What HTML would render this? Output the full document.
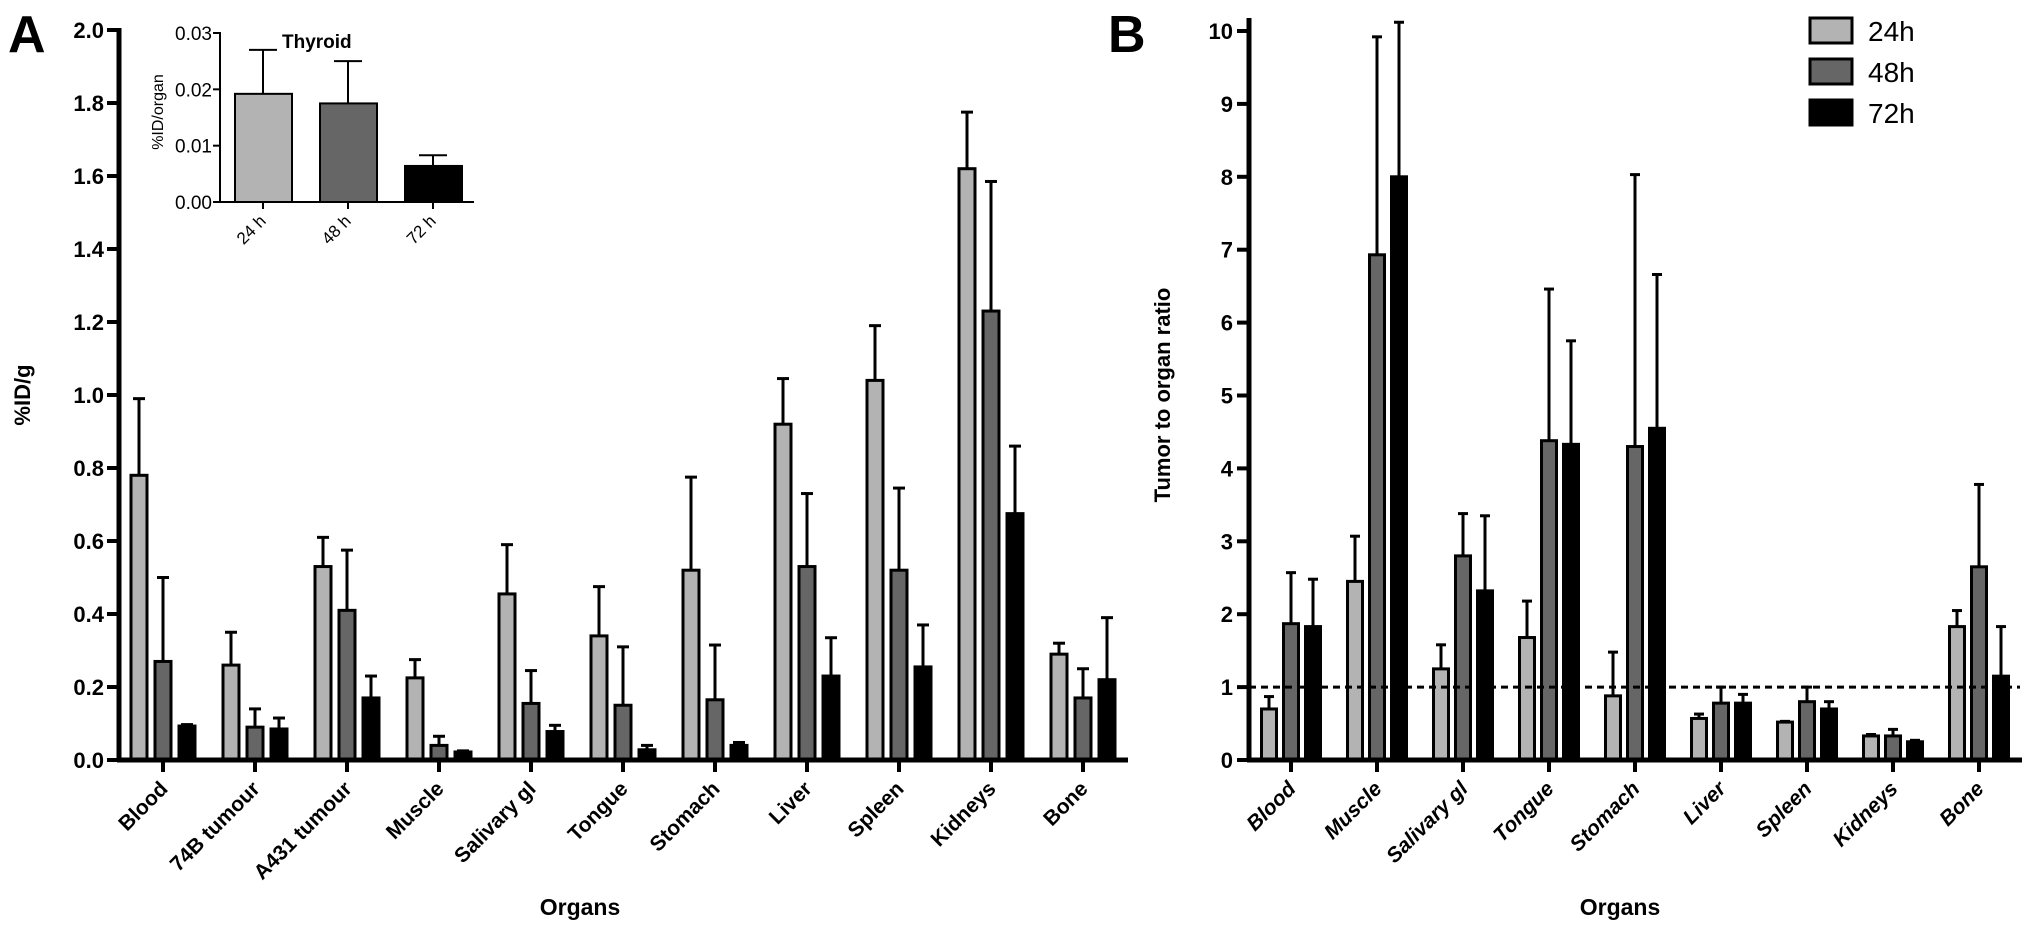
<!DOCTYPE html>
<html><head><meta charset="utf-8">
<style>
html,body{margin:0;padding:0;background:#fff;}
svg{display:block;font-family:"Liberation Sans",Arial,sans-serif;}
</style></head>
<body>
<svg id="fig" width="2031" height="940" viewBox="0 0 2031 940" xmlns="http://www.w3.org/2000/svg"></svg>
<script>
// Panel A data
const catsA = ["Blood","74B tumour","A431 tumour","Muscle","Salivary gl","Tongue","Stomach","Liver","Spleen","Kidneys","Bone"];
const a24 = [0.78,0.26,0.53,0.225,0.455,0.34,0.52,0.92,1.04,1.62,0.29];
const a24err = [0.99,0.35,0.61,0.275,0.59,0.475,0.775,1.045,1.19,1.775,0.32];
const a48 = [0.27,0.09,0.41,0.04,0.155,0.15,0.165,0.53,0.52,1.23,0.17];
const a48err = [0.50,0.14,0.575,0.065,0.245,0.31,0.315,0.73,0.745,1.585,0.25];
const a72 = [0.093,0.085,0.17,0.022,0.078,0.028,0.04,0.23,0.255,0.675,0.22];
const a72err = [0.097,0.115,0.23,0.025,0.095,0.04,0.048,0.335,0.37,0.86,0.39];
const ticksA = ["0.0","0.2","0.4","0.6","0.8","1.0","1.2","1.4","1.6","1.8","2.0"];
// Inset data
const catsI = ["24 h","48 h","72 h"];
const thy = [0.0192,0.0175,0.0064];
const thyErr = [0.027,0.025,0.0083];
const ticksI = ["0.00","0.01","0.02","0.03"];
// Panel B data
const catsB = ["Blood","Muscle","Salivary gl","Tongue","Stomach","Liver","Spleen","Kidneys","Bone"];
const b24 = [0.70,2.45,1.25,1.68,0.88,0.57,0.52,0.33,1.83];
const b24err = [0.87,3.07,1.58,2.18,1.48,0.63,0.53,0.35,2.05];
const b48 = [1.87,6.93,2.80,4.38,4.30,0.78,0.80,0.33,2.65];
const b48err = [2.57,9.92,3.38,6.46,8.03,1.0,1.0,0.42,3.78];
const b72 = [1.83,8.00,2.32,4.33,4.55,0.78,0.70,0.25,1.15];
const b72err = [2.48,10.12,3.35,5.75,6.66,0.90,0.80,0.27,1.83];
const ticksB = ["0","1","2","3","4","5","6","7","8","9","10"];
const refLine = [1];

const NS="http://www.w3.org/2000/svg";
const svg=document.getElementById('fig');
const fills=["#b3b3b3","#666666","#000000"];
function mk(tag,attrs,parent,text){const e=document.createElementNS(NS,tag);for(const k in attrs)e.setAttribute(k,attrs[k]);if(text!==undefined)e.textContent=text;(parent||svg).appendChild(e);return e;}

// ---------- Panel A ----------
const gA=mk('g',{});


const yA=v=>760-v*365;
const xA=i=>163+i*92;
let t=mk('text',{x:8,y:52,'font-size':52,'font-weight':'bold'},gA,'A');

ticksA.forEach((lab)=>{const v=parseFloat(lab);
  const tk=mk('line',{x1:107,x2:119,y1:yA(v),y2:yA(v),stroke:'#000','stroke-width':4},gA);
  
  const tl=mk('text',{x:104,y:yA(v)+8,'font-size':22,'font-weight':'bold','text-anchor':'end'},gA,lab);
  
});
function bars(g,cats,series,errs,xf,yf,off,w,cap,nm){
  cats.forEach((c,i)=>{
    series.forEach((s,k)=>{
      const cx=xf(i)+off[k];
      const eb=mk('line',{x1:cx,x2:cx,y1:yf(errs[k][i]),y2:yf(s[i]),stroke:'#000','stroke-width':3},g);
      
      const ec=mk('line',{x1:cx-cap,x2:cx+cap,y1:yf(errs[k][i]),y2:yf(errs[k][i]),stroke:'#000','stroke-width':3},g);
      
      const r=mk('rect',{x:cx-w/2,y:yf(s[i]),width:w,height:yf(0)-yf(s[i]),fill:fills[k],stroke:'#000','stroke-width':3},g);
      
    });
  });
}
bars(gA,catsA,[a24,a48,a72],[a24err,a48err,a72err],xA,yA,[-24,0,24],16,6,'a');
let ax=mk('line',{x1:119,x2:119,y1:28,y2:762,stroke:'#000','stroke-width':5},gA);

ax=mk('line',{x1:117,x2:1128,y1:760,y2:760,stroke:'#000','stroke-width':5},gA);

catsA.forEach((c,i)=>{
  const tk=mk('line',{x1:xA(i),x2:xA(i),y1:760,y2:772,stroke:'#000','stroke-width':4},gA);
  
  const tl=mk('text',{x:xA(i)+6,y:790,'font-size':21,'font-weight':'bold','text-anchor':'end',transform:`rotate(-45 ${xA(i)+6} 790)`},gA,c);
  
});
t=mk('text',{x:0,y:0,'font-size':22,'font-weight':'bold','text-anchor':'middle',transform:'translate(30 395) rotate(-90)'},gA,'%ID/g');

t=mk('text',{x:580,y:915,'font-size':23,'font-weight':'bold','text-anchor':'middle'},gA,'Organs');


// ---------- Inset ----------
const gI=mk('g',{});


const yI=v=>202-v*(169/0.03);
const xI=i=>263+i*85;
ticksI.forEach(lab=>{const v=parseFloat(lab);
  const tk=mk('line',{x1:213,x2:221,y1:yI(v),y2:yI(v),stroke:'#000','stroke-width':2},gI);
  
  const tl=mk('text',{x:212,y:yI(v)+7,'font-size':19,'text-anchor':'end'},gI,lab);
  
});
thy.forEach((v,i)=>{
  const cx=xI(i);
  const eb=mk('line',{x1:cx,x2:cx,y1:yI(thyErr[i]),y2:yI(v),stroke:'#000','stroke-width':2},gI);
  
  const ec=mk('line',{x1:cx-14,x2:cx+14,y1:yI(thyErr[i]),y2:yI(thyErr[i]),stroke:'#000','stroke-width':2},gI);
  
  const r=mk('rect',{x:cx-28,y:yI(v),width:57,height:yI(0)-yI(v),fill:fills[i],stroke:'#000','stroke-width':2},gI);
  
  const tk=mk('line',{x1:cx,x2:cx,y1:202,y2:209,stroke:'#000','stroke-width':2},gI);
  
  const tl=mk('text',{x:cx+4,y:222,'font-size':17,'text-anchor':'end',transform:`rotate(-45 ${cx+4} 222)`},gI,catsI[i]);
  
});
ax=mk('line',{x1:220,x2:220,y1:32,y2:203,stroke:'#000','stroke-width':2},gI);

ax=mk('line',{x1:219,x2:474,y1:202,y2:202,stroke:'#000','stroke-width':2},gI);

t=mk('text',{x:282,y:48,'font-size':19,'font-weight':'bold'},gI,'Thyroid');

t=mk('text',{x:0,y:0,'font-size':16,'text-anchor':'middle',transform:'translate(163 112) rotate(-90)'},gI,'%ID/organ');


// ---------- Panel B ----------
const gB=mk('g',{});


const yB=v=>760-v*72.9;
const xB=i=>1291+i*86;
t=mk('text',{x:1108,y:52,'font-size':52,'font-weight':'bold'},gB,'B');

ticksB.forEach(lab=>{const v=parseFloat(lab);
  const tk=mk('line',{x1:1237,x2:1249,y1:yB(v),y2:yB(v),stroke:'#000','stroke-width':4},gB);
  
  const tl=mk('text',{x:1233,y:yB(v)+8,'font-size':22,'font-weight':'bold','text-anchor':'end'},gB,lab);
  
});
bars(gB,catsB,[b24,b48,b72],[b24err,b48err,b72err],xB,yB,[-22,0,22],15,5,'b');
refLine.forEach(v=>{
  const l=mk('line',{x1:1249,x2:2020,y1:yB(v),y2:yB(v),stroke:'#000','stroke-width':3,'stroke-dasharray':'7,5'},gB);
  
});
ax=mk('line',{x1:1249,x2:1249,y1:18,y2:762,stroke:'#000','stroke-width':5},gB);

ax=mk('line',{x1:1247,x2:2022,y1:760,y2:760,stroke:'#000','stroke-width':5},gB);

catsB.forEach((c,i)=>{
  const tk=mk('line',{x1:xB(i),x2:xB(i),y1:760,y2:772,stroke:'#000','stroke-width':4},gB);
  
  const tl=mk('text',{x:xB(i)+6,y:790,'font-size':21,'font-weight':'bold','font-style':'italic','text-anchor':'end',transform:`rotate(-45 ${xB(i)+6} 790)`},gB,c);
  
});
t=mk('text',{x:0,y:0,'font-size':22,'font-weight':'bold','text-anchor':'middle',transform:'translate(1170 395) rotate(-90)'},gB,'Tumor to organ ratio');

t=mk('text',{x:1620,y:915,'font-size':23,'font-weight':'bold','text-anchor':'middle'},gB,'Organs');


// Legend
const legLabels=["24h","48h","72h"];
const gL=mk('g',{},gB);


legLabels.forEach((lab,k)=>{
  const y=18+k*41;
  const r=mk('rect',{x:1810,y:y,width:42,height:25,fill:fills[k],stroke:'#000','stroke-width':3},gL);
  
  const tl=mk('text',{x:1868,y:y+23,'font-size':28},gL,lab);
  
});
</script>
</body></html>
